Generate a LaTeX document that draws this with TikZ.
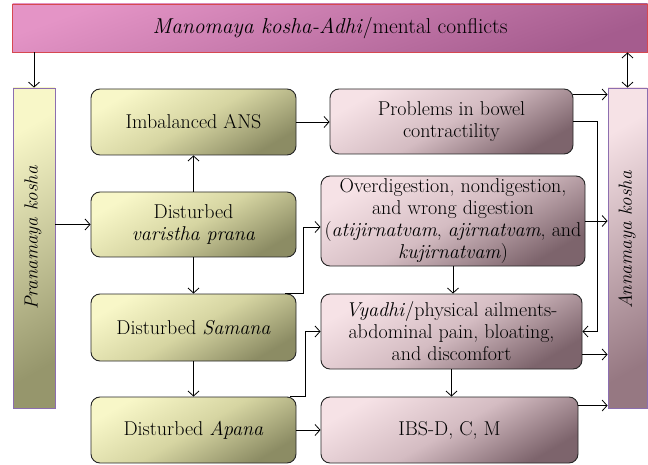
\documentclass[tikz,border=0pt]{standalone}
\usetikzlibrary{positioning,arrows.meta,calc}
\definecolor{greenlight}{RGB}{248,247,200}
\definecolor{greenmid}{RGB}{214,213,162}
\definecolor{greendark}{RGB}{140,140,100}
\definecolor{pinklight}{RGB}{246,226,230}
\definecolor{pinkmid}{RGB}{212,188,194}
\definecolor{pinkdark}{RGB}{125,100,108}
\definecolor{sidedark}{RGB}{150,150,108}
\definecolor{annadark}{RGB}{150,120,130}
\definecolor{barlight}{RGB}{228,148,198}
\definecolor{bardark}{RGB}{165,92,142}
\definecolor{barline}{RGB}{214,72,80}
\definecolor{sideline}{RGB}{140,110,176}
\tikzset{
  gbox/.style = {rectangle, draw=black!85, rounded corners=9pt,
                 line width=0.9pt, minimum width=205pt, inner sep=2pt,
                 align=center, font=\fontsize{20}{22}\selectfont,
                 top color=greenlight, bottom color=greendark, middle color=greenmid,
                 shading angle=30},
  pbox/.style = {gbox, top color=pinklight, bottom color=pinkdark, middle color=pinkmid,
                 shading angle=30},
  side/.style = {rectangle, draw=sideline, line width=0.8pt,
                 minimum width=42pt, minimum height=320pt,
                 top color=greenlight, bottom color=sidedark, shading angle=30},
  sidetext/.style = {rotate=90, font=\fontsize{19}{22}\selectfont\itshape},
  arr/.style  = {-{Straight Barb[length=5pt,width=11pt]}, line width=0.8pt},
  darr/.style = {{Straight Barb[length=5pt,width=11pt]}-{Straight Barb[length=5pt,width=11pt]},
                 line width=0.8pt}
}
\begin{document}
\begin{tikzpicture}[x=1pt, y=-1pt]
    \useasboundingbox (0,0) rectangle (648,465);
    \node[rectangle, draw=barline, line width=0.9pt,
          minimum width=635pt, minimum height=48pt,
          top color=barlight, bottom color=bardark, shading angle=20,
          font=\fontsize{21.5}{24}\selectfont] (mano) at (330,28)
          {\textit{Manomaya kosha-Adhi}/mental conflicts};
    \node[side] (prana) at (34,248) {};
    \node[sidetext] (pranatext) at (33,238) {Pranamaya kosha};
    \node[side, minimum width=39pt, top color=pinklight, bottom color=annadark,
          shading angle=30] (anna) at (627.5,248) {};
    \node[sidetext] (annatext) at (627,240) {Annamaya kosha};
    % linke Spalte
    \node[gbox, minimum height=66pt] (ans)  at (193.5,122)   {Imbalanced ANS};
    \node[gbox, minimum height=65pt] (vari) at (193.5,224.5) {Disturbed\\\textit{varistha prana}};
    \node[gbox, minimum height=67pt] (sam)  at (193.5,327.5) {Disturbed \textit{Samana}};
    \node[gbox, minimum height=66pt] (apa)  at (193.5,430)   {Disturbed \textit{Apana}};
    % rechte Spalte
    \node[pbox, minimum width=243pt, minimum height=65pt] (prob) at (451.5,121.5)
          {Problems in bowel\\contractility};
    \node[pbox, minimum width=264pt, minimum height=90pt] (over) at (453,221)
          {Overdigestion, nondigestion,\\and wrong digestion\\(\textit{atijirnatvam}, \textit{ajirnatvam}, and\\\textit{kujirnatvam})};
    \node[pbox, minimum width=261pt, minimum height=75pt] (vyad) at (451.5,331.5)
          {\textit{Vyadhi}/physical ailments-\\abdominal pain, bloating,\\and discomfort};
    \node[pbox, minimum width=257pt, minimum height=66pt] (ibs)  at (449.5,430)
          {IBS-D, C, M};
    % Pfeile
    \draw[arr]  (mano.south -| prana) -- (prana.north);
    \draw[darr] (mano.south -| anna) -- (anna.north);
    \draw[arr]  (prana.east |- vari.west) -- (vari.west);
    \draw[arr]  (vari.north) -- (ans.south);
    \draw[arr]  (vari.south) -- (sam.north);
    \draw[arr]  (sam.south) -- (apa.north);
    \draw[arr]  (ans.east) -- (prob.west |- ans.east);
    \coordinate (probout) at ([yshift=-6pt]prob.north east);
    \draw[arr]  (probout) -- (probout -| anna.west);
    \draw[arr]  (prob.east) -- ++(24,0) |- (vyad.east);
    \draw[arr]  (over.east) -- (over.east -| anna.west);
    \draw[arr]  (over.south) -- (over.south |- vyad.north);
    \draw[arr]  ([xshift=-11pt]sam.north east) -- ++(18,0) |- ([yshift=-6pt]over.west);
    \draw[arr]  ([xshift=-6pt]apa.north east) -- ++(15,0) |- (vyad.west);
    \draw[arr]  (apa.east) -- (apa.east -| ibs.west);
    \coordinate (vyadout) at ([yshift=-23pt]vyad.east);
    \draw[arr]  (vyadout) -- (vyadout -| anna.west);
    \draw[arr]  (vyad.south) -- (vyad.south |- ibs.north);
    \coordinate (ibsout) at ([yshift=-9pt]ibs.north east);
    \draw[arr]  (ibsout) -- (ibsout -| anna.west);
\end{tikzpicture}
\end{document}
